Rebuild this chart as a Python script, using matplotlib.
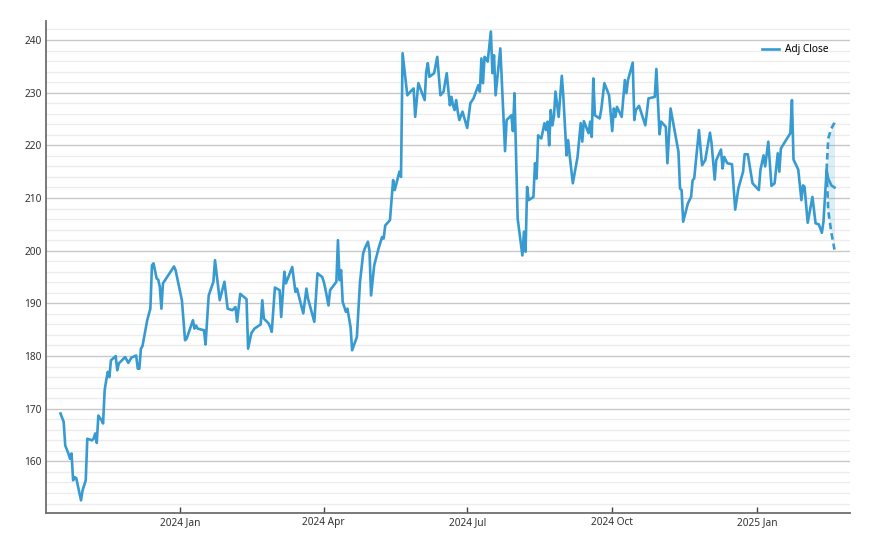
import pandas as pd
import matplotlib.pyplot as plt
import matplotlib.dates as mdates
from matplotlib.ticker import MultipleLocator

# values (vertices of the line)
dates = [
    "2023-10-17", "2023-10-19", "2023-10-20", "2023-10-22", "2023-10-23", "2023-10-24",
    "2023-10-25", "2023-10-26", "2023-10-27", "2023-10-30", "2023-10-31", "2023-11-02",
    "2023-11-03", "2023-11-06", "2023-11-07", "2023-11-08", "2023-11-09", "2023-11-10",
    "2023-11-12", "2023-11-13", "2023-11-14", "2023-11-15", "2023-11-16", "2023-11-17",
    "2023-11-18", "2023-11-20", "2023-11-21", "2023-11-22", "2023-11-23", "2023-11-25",
    "2023-11-27", "2023-11-29", "2023-12-01", "2023-12-04", "2023-12-05", "2023-12-06",
    "2023-12-07", "2023-12-08", "2023-12-11", "2023-12-13", "2023-12-14", "2023-12-15",
    "2023-12-17", "2023-12-18", "2023-12-19", "2023-12-20", "2023-12-21", "2023-12-28",
    "2023-12-29", "2024-01-02", "2024-01-04", "2024-01-05", "2024-01-09", "2024-01-10",
    "2024-01-11", "2024-01-12", "2024-01-16", "2024-01-17", "2024-01-19", "2024-01-22",
    "2024-01-23", "2024-01-24", "2024-01-26", "2024-01-29", "2024-01-31", "2024-02-03",
    "2024-02-05", "2024-02-06", "2024-02-08", "2024-02-12", "2024-02-13", "2024-02-15",
    "2024-02-17", "2024-02-21", "2024-02-22", "2024-02-23", "2024-02-26", "2024-02-27",
    "2024-02-28", "2024-03-01", "2024-03-04", "2024-03-05", "2024-03-07", "2024-03-08",
    "2024-03-12", "2024-03-14", "2024-03-15", "2024-03-19", "2024-03-21", "2024-03-22",
    "2024-03-26", "2024-03-28", "2024-03-31", "2024-04-01", "2024-04-02", "2024-04-04",
    "2024-04-05", "2024-04-09", "2024-04-10", "2024-04-11", "2024-04-12", "2024-04-13",
    "2024-04-15", "2024-04-16", "2024-04-18", "2024-04-19", "2024-04-22", "2024-04-24",
    "2024-04-26", "2024-04-27", "2024-04-29", "2024-04-30", "2024-05-01", "2024-05-03",
    "2024-05-06", "2024-05-08", "2024-05-09", "2024-05-10", "2024-05-13", "2024-05-15",
    "2024-05-16", "2024-05-19", "2024-05-20", "2024-05-21", "2024-05-24", "2024-05-26",
    "2024-05-28", "2024-05-29", "2024-05-31", "2024-06-02", "2024-06-04", "2024-06-05",
    "2024-06-06", "2024-06-07", "2024-06-10", "2024-06-12", "2024-06-14", "2024-06-16",
    "2024-06-18", "2024-06-20", "2024-06-21", "2024-06-22", "2024-06-23", "2024-06-24",
    "2024-06-25", "2024-06-26", "2024-06-28", "2024-07-01", "2024-07-03", "2024-07-05",
    "2024-07-08", "2024-07-09", "2024-07-10", "2024-07-11", "2024-07-12", "2024-07-13",
    "2024-07-14", "2024-07-16", "2024-07-17", "2024-07-18", "2024-07-19", "2024-07-22",
    "2024-07-25", "2024-07-26", "2024-07-29", "2024-07-30", "2024-07-31", "2024-08-02",
    "2024-08-05", "2024-08-06", "2024-08-07", "2024-08-08", "2024-08-09", "2024-08-12",
    "2024-08-13", "2024-08-14", "2024-08-15", "2024-08-17", "2024-08-19", "2024-08-20",
    "2024-08-21", "2024-08-22", "2024-08-23", "2024-08-24", "2024-08-25", "2024-08-26",
    "2024-08-28", "2024-08-30", "2024-08-31", "2024-09-02", "2024-09-03", "2024-09-04",
    "2024-09-06", "2024-09-09", "2024-09-11", "2024-09-12", "2024-09-13", "2024-09-16",
    "2024-09-17", "2024-09-18", "2024-09-19", "2024-09-20", "2024-09-23", "2024-09-24",
    "2024-09-26", "2024-09-29", "2024-10-01", "2024-10-02", "2024-10-03", "2024-10-04",
    "2024-10-07", "2024-10-09", "2024-10-10", "2024-10-11", "2024-10-14", "2024-10-15",
    "2024-10-16", "2024-10-18", "2024-10-22", "2024-10-24", "2024-10-28", "2024-10-29",
    "2024-10-31", "2024-11-01", "2024-11-04", "2024-11-05", "2024-11-07", "2024-11-12",
    "2024-11-13", "2024-11-14", "2024-11-15", "2024-11-18", "2024-11-20", "2024-11-21",
    "2024-11-22", "2024-11-25", "2024-11-27", "2024-11-29", "2024-12-02", "2024-12-03",
    "2024-12-05", "2024-12-06", "2024-12-09", "2024-12-10", "2024-12-11", "2024-12-13",
    "2024-12-16", "2024-12-18", "2024-12-20", "2024-12-23", "2024-12-24", "2024-12-26",
    "2024-12-29", "2025-01-02", "2025-01-03", "2025-01-05", "2025-01-06", "2025-01-08",
    "2025-01-10", "2025-01-12", "2025-01-14", "2025-01-15", "2025-01-16", "2025-01-18",
    "2025-01-22", "2025-01-23", "2025-01-24", "2025-01-27", "2025-01-29", "2025-01-30",
    "2025-01-31", "2025-02-02", "2025-02-05", "2025-02-07", "2025-02-09", "2025-02-11",
    "2025-02-12", "2025-02-14", "2025-02-15", "2025-02-17", "2025-02-19",
]
adj_close = [
    169.1, 167.5, 163.0, 161.5, 160.5, 161.5,
    156.4, 157.0, 156.8, 152.6, 154.5, 156.4,
    164.3, 164.0, 164.3, 165.3, 163.5, 168.7,
    167.8, 167.2, 173.5, 175.4, 177.0, 176.0,
    179.2, 179.7, 180.0, 177.3, 178.6, 179.2,
    179.8, 178.7, 179.7, 180.1, 177.6, 177.6,
    181.4, 181.9, 186.8, 189.0, 197.2, 197.6,
    194.7, 194.5, 193.1, 189.0, 193.8, 197.0,
    196.3, 190.6, 183.0, 183.3, 186.8, 185.2,
    185.8, 185.2, 184.9, 182.2, 191.5, 194.1,
    198.2, 195.7, 190.6, 194.1, 189.0, 188.7,
    189.3, 186.5, 191.8, 190.8, 181.4, 184.3,
    185.2, 186.0, 190.6, 187.1, 186.2, 185.5,
    184.6, 193.0, 192.5, 187.4, 196.0, 193.8,
    196.9, 192.2, 192.8, 188.1, 192.8, 190.9,
    186.5, 195.7, 195.0, 194.1, 192.8, 189.6,
    192.5, 194.1, 202.0, 194.4, 196.3, 190.3,
    188.4, 189.0, 185.5, 181.1, 183.6, 194.1,
    199.5, 200.4, 201.7, 200.0, 191.5, 197.2,
    200.7, 202.6, 202.3, 204.8, 205.8, 213.4,
    211.5, 215.0, 214.0, 237.5, 229.5, 230.2,
    230.8, 225.4, 231.8, 230.2, 228.6, 234.0,
    235.6, 233.0, 233.7, 236.8, 229.5, 230.2,
    233.7, 227.6, 229.2, 227.6, 226.7, 228.6,
    226.4, 224.8, 226.4, 223.3, 228.0, 228.9,
    231.4, 230.2, 236.5, 231.8, 236.8, 236.5,
    235.9, 241.6, 233.7, 237.1, 229.5, 238.4,
    218.9, 224.8, 225.7, 222.7, 229.9, 206.1,
    199.1, 203.6, 199.8, 212.1, 209.6, 210.2,
    216.6, 213.7, 221.9, 221.3, 224.2, 222.9,
    224.5, 220.0, 226.7, 223.8, 225.4, 230.2,
    225.4, 233.2, 229.2, 218.1, 221.0, 218.1,
    212.8, 217.8, 224.2, 220.7, 224.6, 222.3,
    224.5, 221.6, 232.7, 225.7, 225.1, 226.7,
    231.8, 229.5, 222.7, 227.0, 225.4, 227.3,
    225.4, 232.4, 229.9, 232.4, 235.7, 224.8,
    226.7, 227.5, 223.8, 228.9, 229.2, 234.5,
    222.1, 224.5, 223.5, 216.6, 227.0, 218.8,
    211.8, 211.5, 205.5, 209.0, 210.2, 213.4,
    213.7, 222.9, 216.2, 217.2, 222.4, 220.4,
    213.5, 217.2, 219.2, 215.6, 217.8, 216.6,
    216.4, 207.8, 211.8, 215.0, 218.3, 218.3,
    212.8, 211.5, 215.3, 218.1, 216.0, 220.7,
    212.3, 212.8, 218.5, 215.0, 219.4, 220.4,
    222.3, 228.6, 217.3, 215.4, 209.6, 212.4,
    212.1, 205.3, 210.2, 205.2, 205.0, 203.4,
    205.5, 215.3, 213.7, 212.4, 212.0,
]

# forecast cone at the end
fc_dates = ["2025-02-14", "2025-02-15", "2025-02-17", "2025-02-19"]
fc_upper = [215.3, 221.3, 223.2, 224.3]
fc_lower = [215.3, 207.7, 203.4, 200.2]

plt.rcParams["font.family"] = ["Noto Sans", "DejaVu Sans"]
plt.rcParams["font.size"] = 7.3

line_color = "#379bd2"

x = pd.to_datetime(dates)
xf = pd.to_datetime(fc_dates)

fig = plt.figure(figsize=(8.7, 5.5), dpi=100)
ax = fig.add_axes([46 / 870, 1 - 513 / 550, (850 - 46) / 870, (513 - 20.5) / 550])

ax.plot(x, adj_close, color=line_color, linewidth=1.9, label="Adj Close", zorder=3)
ax.fill_between(xf, fc_lower, fc_upper, color=line_color, alpha=0.16, linewidth=0, zorder=2)
ax.plot(xf, fc_upper, color=line_color, linewidth=1.9, linestyle=(0, (2.5, 1.5)), zorder=3)
ax.plot(xf, fc_lower, color=line_color, linewidth=1.9, linestyle=(0, (2.5, 1.5)), zorder=3)

ax.set_xlim(pd.Timestamp("2023-10-07 19:00"), pd.Timestamp("2025-02-28 20:00"))
ax.set_ylim(150.2, 243.7)

ax.xaxis.set_major_locator(mdates.MonthLocator(bymonth=[1, 4, 7, 10]))
ax.xaxis.set_major_formatter(mdates.DateFormatter("%Y %b"))
ax.yaxis.set_major_locator(MultipleLocator(10))
ax.yaxis.set_minor_locator(MultipleLocator(2))

ax.grid(axis="y", which="major", color="#c8c8c8", linewidth=1.0, zorder=0)
ax.grid(axis="y", which="minor", color="#ececec", linewidth=1.0, zorder=0)
ax.set_axisbelow(True)

for side in ["top", "right"]:
    ax.spines[side].set_visible(False)
for side in ["left", "bottom"]:
    ax.spines[side].set_color("#6e6e6e")
    ax.spines[side].set_linewidth(1.3)

ax.tick_params(axis="x", direction="in", length=4, width=1, color="#444444",
               labelcolor="#333333", pad=3)
ax.tick_params(axis="y", which="both", length=0, labelcolor="#333333", pad=3)

ax.legend(loc="upper right", bbox_to_anchor=(0.985, 0.97), frameon=False,
          handlelength=1.7, handletextpad=0.6, fontsize=7.3)

fig.savefig("out.png", dpi=100)
